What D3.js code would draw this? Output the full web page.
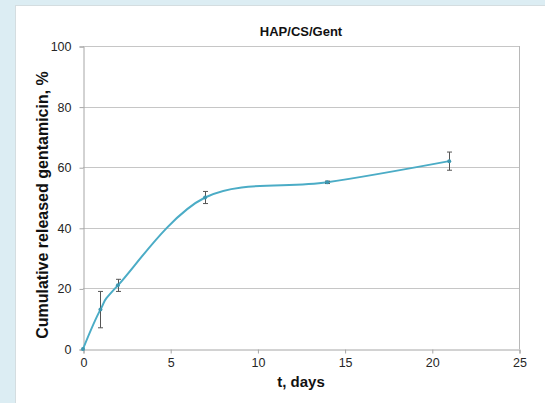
<!DOCTYPE html>
<html>
<head>
<meta charset="utf-8">
<script src="https://cdn.jsdelivr.net/npm/d3@7"></script>
<style>
  html, body { margin: 0; padding: 0; background: #dcedf3; }
  svg { display: block; }
</style>
</head>
<body>
<svg id="chart" width="545" height="403"></svg>
<script>
// Release time points (days) and cumulative release (%)
const days = [0, 1, 2, 7, 14, 21];
const released = [0, 13, 21, 50, 55, 62];
const errors = [0, 6, 2, 2, 0.4, 3];

const xTicks = [0, 5, 10, 15, 20, 25];
const yTicks = [0, 20, 40, 60, 80, 100];

const title = "HAP/CS/Gent";
const xTitle = "t, days";
const yTitle = "Cumulative released gentamicin, %";

const W = 545, H = 403;
const plot = { left: 83, right: 519, top: 46, bottom: 349 };
const font = "'Liberation Sans', Arial, sans-serif";

const svg = d3.select("#chart");

// white card behind the chart
svg.append("rect")
  .attr("x", 15.5).attr("y", 5.5)
  .attr("width", W).attr("height", H)
  .attr("fill", "#ffffff")
  .attr("stroke", "#d4dde0");

const x = d3.scaleLinear().domain([0, 25]).range([plot.left, plot.right]);
const y = d3.scaleLinear().domain([0, 100]).range([plot.bottom, plot.top]);

// horizontal gridlines
svg.append("g")
  .selectAll("line")
  .data(yTicks.filter(d => d > 0))
  .join("line")
  .attr("x1", plot.left).attr("x2", plot.right)
  .attr("y1", d => Math.round(y(d)) + 0.5).attr("y2", d => Math.round(y(d)) + 0.5)
  .attr("stroke", "#c6c6c6").attr("stroke-width", 1);

// right border of plot area
svg.append("line")
  .attr("x1", plot.right + 0.5).attr("x2", plot.right + 0.5)
  .attr("y1", plot.top).attr("y2", plot.bottom)
  .attr("stroke", "#b8b8b8");

// y axis
const yAxis = svg.append("g")
  .attr("transform", `translate(${plot.left + 0.5},0.5)`)
  .call(d3.axisLeft(y).tickValues(yTicks).tickSize(4).tickPadding(8).tickFormat(d3.format("d")));
yAxis.select(".domain").attr("stroke", "#a6a6a6");
yAxis.selectAll(".tick line").attr("stroke", "#a6a6a6");
yAxis.selectAll("text")
  .attr("font-family", font).attr("font-size", 12.5).attr("fill", "#262626");

// x axis
const xAxis = svg.append("g")
  .attr("transform", `translate(0.5,${plot.bottom + 0.5})`)
  .call(d3.axisBottom(x).tickValues(xTicks).tickSize(4).tickPadding(5).tickFormat(d3.format("d")));
xAxis.select(".domain").attr("stroke", "#a6a6a6");
xAxis.selectAll(".tick line").attr("stroke", "#a6a6a6");
xAxis.selectAll("text")
  .attr("font-family", font).attr("font-size", 12.5).attr("fill", "#262626");

// smoothed release curve
const pts = days.map((d, i) => [d, released[i]]);
svg.append("path")
  .datum(pts)
  .attr("fill", "none")
  .attr("stroke", "#4bacc6")
  .attr("stroke-width", 2)
  .attr("d", d3.line().x(d => x(d[0])).y(d => y(d[1])).curve(d3.curveCatmullRom.alpha(0)));

// error bars
const eb = svg.append("g").attr("stroke", "#555").attr("stroke-width", 1);
days.forEach((d, i) => {
  if (errors[i] <= 0) return;
  const cx = Math.round(x(d)) + 0.5;
  const y1 = y(released[i] + errors[i]), y2 = y(released[i] - errors[i]);
  eb.append("line").attr("x1", cx).attr("x2", cx).attr("y1", y1).attr("y2", y2);
  eb.append("line").attr("x1", cx - 2.5).attr("x2", cx + 2.5).attr("y1", y1).attr("y2", y1);
  eb.append("line").attr("x1", cx - 2.5).attr("x2", cx + 2.5).attr("y1", y2).attr("y2", y2);
});

// point markers
svg.append("g")
  .selectAll("circle")
  .data(pts)
  .join("circle")
  .attr("cx", d => x(d[0])).attr("cy", d => y(d[1]))
  .attr("r", 2).attr("fill", "#3d97b0");

// titles
svg.append("text")
  .attr("x", (plot.left + plot.right) / 2).attr("y", 36)
  .attr("text-anchor", "middle")
  .attr("font-family", font).attr("font-size", 13).attr("font-weight", "bold")
  .attr("fill", "#111")
  .text(title);

svg.append("text")
  .attr("x", (plot.left + plot.right) / 2).attr("y", 387)
  .attr("text-anchor", "middle")
  .attr("font-family", font).attr("font-size", 15).attr("font-weight", "bold")
  .attr("fill", "#111")
  .text(xTitle);

svg.append("text")
  .attr("transform", "translate(48,205) rotate(-90)")
  .attr("text-anchor", "middle")
  .attr("font-family", font).attr("font-size", 16).attr("font-weight", "bold")
  .attr("fill", "#111")
  .text(yTitle);
</script>
</body>
</html>
